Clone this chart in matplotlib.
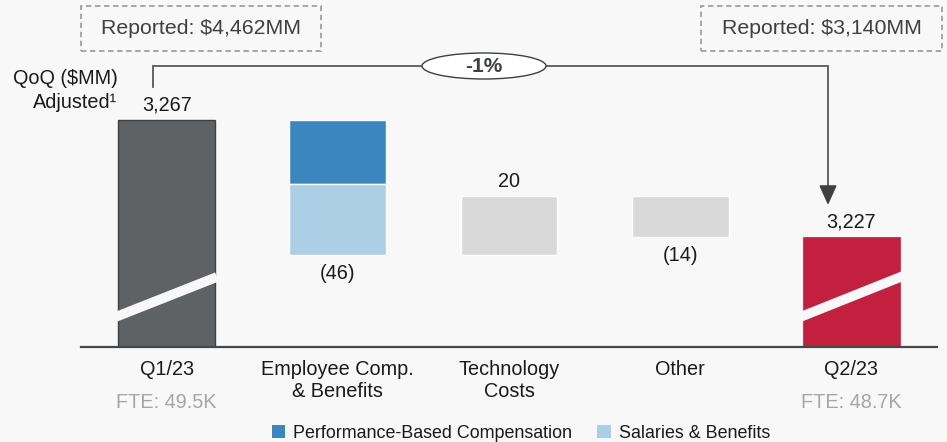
import matplotlib
matplotlib.use("Agg")
import matplotlib.pyplot as plt
from matplotlib.patches import Ellipse, Patch, FancyBboxPatch

plt.rcParams['font.family'] = ['Liberation Sans', 'DejaVu Sans']

# ---- data ----
categories = ["Q1/23", "Employee Comp.\n& Benefits", "Technology\nCosts", "Other", "Q2/23"]
fte_labels = ["FTE: 49.5K", "", "", "", "FTE: 48.7K"]
start_value = 3267
end_value = 3227
perf_comp = -22
salaries = -24
tech = 20
other = -14
value_labels = ["3,267", "(46)", "20", "(14)", "3,227"]
reported = ["Reported: $4,462MM", "Reported: $3,140MM"]
change_label = "-1%"
legend_labels = ["Performance-Based Compensation", "Salaries & Benefits"]

# ---- style ----
BG = "#f8f8f8"
C_Q1 = "#5e6265"
C_PERF = "#3a87bf"
C_SAL = "#abd0e6"
C_GRAY = "#d9d9d9"
C_RED = "#c31f3e"
TXT = "#1a1a1a"

W, H = 947, 442
fig = plt.figure(figsize=(W / 100, H / 100), dpi=100, facecolor=BG)

def fx(px):
    return px / W

def fy(py):
    return 1 - py / H

base_px = 347
ax = fig.add_axes([fx(81), fy(base_px), fx(937) - fx(81), base_px / H])
ax.set_facecolor(BG)
floor = 3189.5
ax.set_ylim(floor, floor + base_px / 2.93)
ax.set_xlim(-0.5, 4.5)
for s in ["top", "right", "left"]:
    ax.spines[s].set_visible(False)
ax.spines["bottom"].set_color("#44484b")
ax.spines["bottom"].set_linewidth(1.6)
ax.set_xticks([])
ax.set_yticks([])

bw = 0.565
x = list(range(5))

# start bar
ax.bar(x[0], start_value - floor, bottom=floor, width=bw, color=C_Q1,
       edgecolor="#3c4043", linewidth=1.0)
# employee comp stacked
lvl1 = start_value + perf_comp
ax.bar(x[1], -perf_comp, bottom=lvl1, width=bw, color=C_PERF, edgecolor="white", linewidth=1.0)
lvl2 = lvl1 + salaries
ax.bar(x[1], -salaries, bottom=lvl2, width=bw, color=C_SAL, edgecolor="white", linewidth=1.0)
# technology
ax.bar(x[2], tech, bottom=lvl2, width=bw, color=C_GRAY, edgecolor="white", linewidth=1.0)
lvl3 = lvl2 + tech
lvl4 = lvl3 + other
ax.bar(x[3], -other, bottom=lvl4, width=bw, color=C_GRAY, edgecolor="white", linewidth=1.0)
# end bar
ax.bar(x[4], end_value - floor, bottom=floor, width=bw, color=C_RED, edgecolor=C_RED, linewidth=0.5)

# break marks
ax.plot([-0.313, 0.294], [3199.4, 3213.4], color=BG, lw=7, solid_capstyle="butt", zorder=5)
ax.plot([3.70, 4.30], [3199.7, 3213.7], color=BG, lw=7, solid_capstyle="butt", zorder=5)

# value labels
fs = 14.3
ax.text(x[0], start_value + 1.8, value_labels[0], ha="center", va="bottom", fontsize=fs, color=TXT)
ax.text(x[1], lvl2 - 3.3, value_labels[1], ha="center", va="top", fontsize=fs, color=TXT)
ax.text(x[2], lvl3 + 1.8, value_labels[2], ha="center", va="bottom", fontsize=fs, color=TXT)
ax.text(x[3], lvl4 - 3.0, value_labels[3], ha="center", va="top", fontsize=fs, color=TXT)
ax.text(x[4], end_value + 1.8, value_labels[4], ha="center", va="bottom", fontsize=fs, color=TXT)

# category labels
xt = ax.get_xaxis_transform()
for i, c in enumerate(categories):
    ax.text(i, -13 / base_px, c, ha="center", va="top", fontsize=fs, color=TXT,
            transform=xt, linespacing=1.2)
    if fte_labels[i]:
        ax.text(i, -46 / base_px, fte_labels[i], ha="center", va="top", fontsize=fs,
                color="#a6a6a6", transform=xt)

# connector
y_top = floor + (base_px - 66) / 2.93
y_left = floor + (base_px - 87) / 2.93
y_tip = floor + (base_px - 205) / 2.93
xl = (153 - 81) / 171.2 - 0.5
xr = (828 - 81) / 171.2 - 0.5
ax.plot([xl, xl, xr, xr], [y_left, y_top, y_top, y_tip + 4], color="#555a5e", lw=1.3,
        clip_on=False, zorder=3, solid_joinstyle="miter")
ax.annotate("", xy=(xr, y_tip), xytext=(xr, y_tip + 6),
            arrowprops=dict(arrowstyle="-|>,head_width=0.45,head_length=1.0",
                            mutation_scale=12, color="#3c4043", lw=1.3,
                            shrinkA=0, shrinkB=0),
            annotation_clip=False)
ex = (484 - 81) / 171.2 - 0.5
ell = Ellipse((ex, y_top), width=124 / 171.2, height=26 / 2.93, facecolor="white",
              edgecolor="#3c4043", lw=1.0, clip_on=False, zorder=4)
ax.add_patch(ell)
ax.text(ex, y_top, change_label, ha="center", va="center", fontsize=15, fontweight="bold",
        color="#3c4043", zorder=6)

# left labels
fig.text(fx(118), fy(78), "QoQ ($MM)", ha="right", va="center", fontsize=fs, color=TXT)
fig.text(fx(117), fy(103), "Adjusted\u00b9", ha="right", va="center", fontsize=fs, color=TXT)

# reported boxes
for (x0, x1), t in zip([(81, 321), (701, 942)], reported):
    box = FancyBboxPatch((fx(x0), fy(51)), fx(x1) - fx(x0), fy(6) - fy(51),
                         boxstyle="square,pad=0", transform=fig.transFigure,
                         facecolor="none", edgecolor="#a0a0a0", lw=1.3, linestyle=(0, (3, 2)))
    fig.patches.append(box)
    fig.text(fx((x0 + x1) / 2), fy(29), t, ha="center", va="center", fontsize=15.3, color="#404040")

# legend
handles = [Patch(facecolor=C_PERF, edgecolor="none"), Patch(facecolor=C_SAL, edgecolor="none")]
fig.legend(handles, legend_labels, loc="center", bbox_to_anchor=(fx(521), fy(433)), ncol=2,
           frameon=False, fontsize=12.9, handlelength=0.75, handleheight=0.75,
           handletextpad=0.45, columnspacing=1.4, labelcolor=TXT)

fig.savefig("out.png", dpi=100, facecolor=BG)
